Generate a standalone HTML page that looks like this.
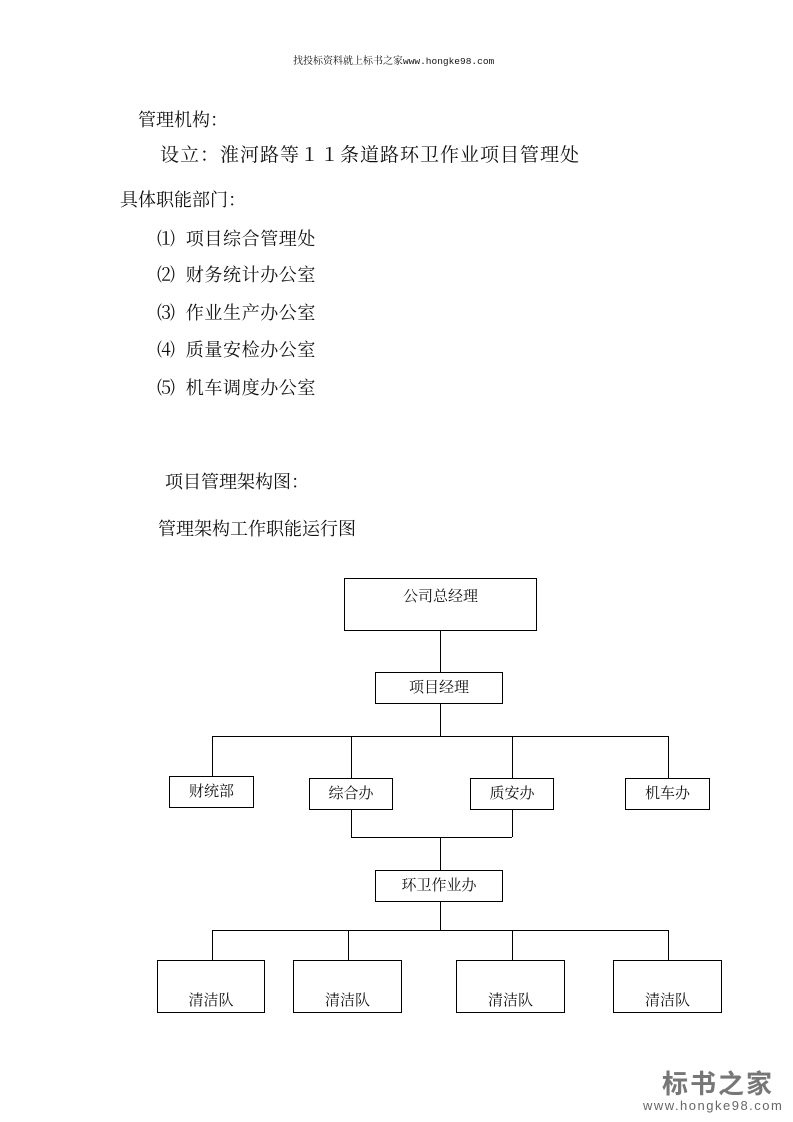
<!DOCTYPE html>
<html><head><meta charset="utf-8"><style>
body{margin:0;background:#fff;}
#p{position:relative;width:793px;height:1122px;overflow:hidden;font-family:"Liberation Serif","Noto Serif CJK SC",serif;color:#111;}
.t{position:absolute;white-space:nowrap;font-size:18px;line-height:20px;}
.b{position:absolute;border:1.3px solid #000;box-sizing:border-box;font-size:15px;text-align:center;font-family:"Liberation Serif","Noto Serif CJK SC",serif;}
.h{position:absolute;height:0;border-top:1.3px solid #000;}
.v{position:absolute;width:0;border-left:1.3px solid #000;}
.l{letter-spacing:0.6px;}
</style></head><body><div id="p">
<div class="t" style="left:293px;top:56px;font-size:10px;line-height:12px;">找投标资料就上标书之家<span style="font-family:'Liberation Mono',monospace;font-size:9.5px;">www.hongke98.com</span></div>
<div class="t" style="left:138px;top:110px;">管理机构：</div>
<div class="t" style="left:160px;top:146px;font-size:19px;letter-spacing:1px;">设立：淮河路等１１条道路环卫作业项目管理处</div>
<div class="t" style="left:120px;top:190px;">具体职能部门：</div>
<div class="t l" style="left:157px;top:229px;">⑴&nbsp; 项目综合管理处</div>
<div class="t l" style="left:157px;top:265px;">⑵&nbsp; 财务统计办公室</div>
<div class="t l" style="left:157px;top:303px;">⑶&nbsp; 作业生产办公室</div>
<div class="t l" style="left:157px;top:340px;">⑷&nbsp; 质量安检办公室</div>
<div class="t l" style="left:157px;top:378px;">⑸&nbsp; 机车调度办公室</div>
<div class="t" style="left:165px;top:472px;">项目管理架构图：</div>
<div class="t" style="left:158px;top:519px;">管理架构工作职能运行图</div>

<div class="b" style="left:344px;top:578px;width:193px;height:53px;padding-top:6px;">公司总经理</div>
<div class="v" style="left:440px;top:631px;height:41px;"></div>
<div class="b" style="left:375px;top:672px;width:128px;height:32px;line-height:30px;">项目经理</div>
<div class="v" style="left:440px;top:704px;height:32px;"></div>
<div class="h" style="left:212px;top:736px;width:456px;"></div>
<div class="v" style="left:212px;top:736px;height:40px;"></div>
<div class="v" style="left:351px;top:736px;height:42px;"></div>
<div class="v" style="left:512px;top:736px;height:42px;"></div>
<div class="v" style="left:668px;top:736px;height:42px;"></div>
<div class="b" style="left:169px;top:776px;width:85px;height:32px;line-height:30px;">财统部</div>
<div class="b" style="left:309px;top:778px;width:84px;height:32px;line-height:30px;">综合办</div>
<div class="b" style="left:470px;top:778px;width:84px;height:32px;line-height:30px;">质安办</div>
<div class="b" style="left:625px;top:778px;width:85px;height:32px;line-height:30px;">机车办</div>
<div class="v" style="left:351px;top:810px;height:27px;"></div>
<div class="v" style="left:512px;top:810px;height:27px;"></div>
<div class="h" style="left:351px;top:837px;width:161px;"></div>
<div class="v" style="left:440px;top:837px;height:33px;"></div>
<div class="b" style="left:375px;top:870px;width:128px;height:32px;line-height:30px;">环卫作业办</div>
<div class="v" style="left:440px;top:902px;height:28px;"></div>
<div class="h" style="left:212px;top:930px;width:456px;"></div>
<div class="v" style="left:212px;top:930px;height:30px;"></div>
<div class="v" style="left:348px;top:930px;height:30px;"></div>
<div class="v" style="left:512px;top:930px;height:30px;"></div>
<div class="v" style="left:668px;top:930px;height:30px;"></div>
<div class="b" style="left:157px;top:960px;width:108px;height:53px;padding-top:28px;">清洁队</div>
<div class="b" style="left:293px;top:960px;width:109px;height:53px;padding-top:28px;">清洁队</div>
<div class="b" style="left:456px;top:960px;width:109px;height:53px;padding-top:28px;">清洁队</div>
<div class="b" style="left:613px;top:960px;width:109px;height:53px;padding-top:28px;">清洁队</div>

<div class="t" style="left:662px;top:1068px;font-size:26px;line-height:30px;font-weight:bold;color:#777;font-family:'Noto Sans CJK SC',sans-serif;letter-spacing:2px;">标书之家</div>
<div class="t" style="left:643px;top:1098px;font-size:13px;line-height:15px;color:#666;letter-spacing:1.5px;font-family:'Liberation Sans',sans-serif;">www.hongke98.com</div>
</div></body></html>
